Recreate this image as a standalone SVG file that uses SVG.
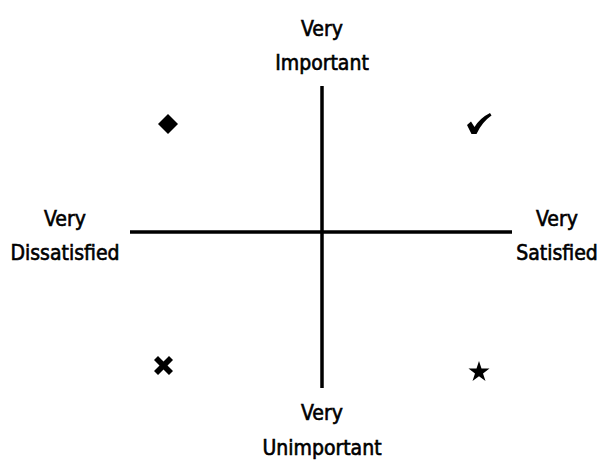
<svg xmlns="http://www.w3.org/2000/svg" width="609" height="474" viewBox="0 0 609 474">
<style>
.lbl{font-family:"DejaVu Sans Condensed","DejaVu Sans",sans-serif;font-size:21px;fill:#000;stroke:#000;stroke-width:0.6;text-anchor:middle}
.axis{stroke:#000;stroke-width:3.5;fill:none}
.sym{fill:#000}
</style>
<rect width="609" height="474" fill="#fff"/>
<g id="connectors">
<line class="axis" x1="322" y1="86" x2="322" y2="388"/>
<line class="axis" x1="130" y1="232" x2="512" y2="232"/>
</g>
<g id="top"><text class="lbl" x="322" y="36">Very</text><text class="lbl" x="322" y="70">Important</text></g>
<g id="left"><text class="lbl" x="65" y="226">Very</text><text class="lbl" x="65" y="260">Dissatisfied</text></g>
<g id="right"><text class="lbl" x="557" y="226">Very</text><text class="lbl" x="557" y="260">Satisfied</text></g>
<g id="bottom"><text class="lbl" x="322" y="420">Very</text><text class="lbl" x="322" y="455">Unimportant</text></g>
<g id="diamond"><path class="sym" d="M168,114 L178,124 L168,134 L158,124 Z"/></g>
<g id="check"><path class="sym" d="M467,125 L471,121.5 L474.5,127 Q480,118 490,113 L491.5,115.5 Q482,122 476.5,134 L471.5,134 Z"/></g>
<g id="cross"><path class="sym" d="M154,360 L158,356 L163.5,361.5 L169,356 L173,360 L167.5,365.5 L173,371 L169,375 L163.5,369.5 L158,375 L154,371 L159.5,365.5 Z"/></g>
<g id="star"><path class="sym" d="M479,361 L481.5,368.6 L489.5,368.6 L483,373.4 L485.5,381 L479,376.3 L472.5,381 L475,373.4 L468.5,368.6 L476.5,368.6 Z"/></g>
</svg>
